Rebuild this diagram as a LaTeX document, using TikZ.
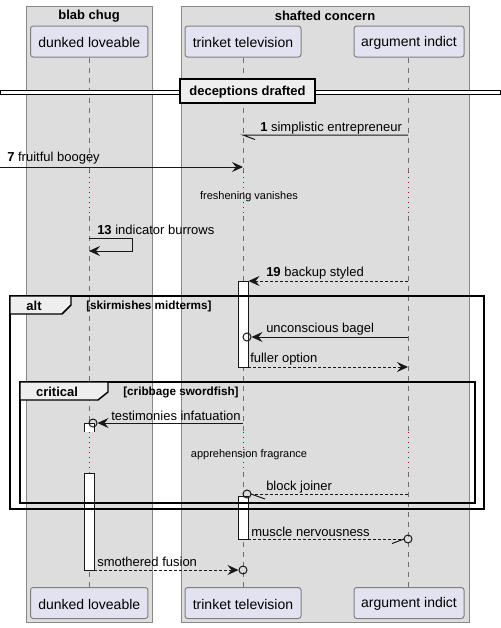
\documentclass[tikz,border=0pt]{standalone}
\usepackage{fontspec}
\setmainfont{Liberation Sans}
\usetikzlibrary{arrows.meta}
\definecolor{lanebg}{HTML}{DDDDDD}
\definecolor{laneborder}{HTML}{888888}
\definecolor{partfill}{HTML}{E2E2F0}
\definecolor{partborder}{HTML}{808080}
\definecolor{tabfill}{HTML}{EEEEEE}
\definecolor{lifegray}{HTML}{707070}
\definecolor{delayred}{HTML}{A80036}
\definecolor{arrowdark}{HTML}{181818}
\begin{document}
\begin{tikzpicture}[x=0.75pt,y=-0.75pt]
\tikzset{
 lanebox/.style={fill=lanebg, draw=laneborder, line width=0.75pt},
 partbox/.style={draw=partborder, fill=partfill, rounded corners=2pt, line width=0.75pt, inner sep=0pt, minimum height=23.25pt, font=\fontsize{10.5}{12}\selectfont},
 parttext/.style={inner sep=0pt, font=\fontsize{10.5}{12}\selectfont},
 lifeline/.style={draw=lifegray, line width=0.75pt, dash pattern=on 3.75pt off 3.75pt},
 delayline/.style={draw=delayred, line width=0.75pt, dash pattern=on 0.75pt off 3pt},
 msg/.style={draw=arrowdark, line width=0.75pt},
 ret/.style={msg, dash pattern=on 2.25pt off 1.5pt},
 tipped/.style={-{Stealth[length=8.25pt,width=7.5pt,inset=3pt]}},
 lbl/.style={anchor=west, inner sep=0pt, yshift=-1.1pt, text=black, font=\fontsize{9.75}{11}\selectfont},
 delaytxt/.style={inner sep=0pt, yshift=-1.5pt, font=\fontsize{8.25}{10}\selectfont},
 guardtxt/.style={anchor=west, inner sep=0pt, yshift=-0.4pt, font=\bfseries\fontsize{8.8}{10}\selectfont},
 titletxt/.style={inner sep=0pt, yshift=-0.6pt, font=\bfseries\fontsize{9.75}{11}\selectfont},
 activ/.style={fill=white, draw=arrowdark, line width=0.75pt},
 frameline/.style={draw=black, line width=1.1pt},
 tabbox/.style={fill=tabfill, draw=black, line width=1.1pt},
 ring/.style={draw=arrowdark, line width=0.75pt},
}
\useasboundingbox (0,0) rectangle (500,628);
\fill[white] (0,0) rectangle (500,628);
% lanes
\draw[lanebox] (26.5,6) rectangle (152,622);
\draw[lanebox] (181,6) rectangle (469,622);
\node[titletxt] (laneA) at (89,15) {blab chug};
\node[titletxt] (laneB) at (325,15) {shafted concern};
% participants
\node[partbox, minimum width=88.1pt] (dT) at (89.25,41.5) {};
\node[partbox, minimum width=87pt] (tT) at (243,41.5) {};
\node[partbox, minimum width=82.5pt] (aT) at (409,41.5) {};
\node[partbox, minimum width=88.1pt] (dB) at (89.25,603) {};
\node[partbox, minimum width=87pt] (tB) at (243,603) {};
\node[partbox, minimum width=82.5pt] (aB) at (409,603) {};
\node[parttext] (dTt) at (89.25,42.8) {dunked loveable};
\node[parttext] (tTt) at (243,42.8) {trinket television};
\node[parttext] (aTt) at (409,42.8) {argument indict};
\node[parttext] (dBt) at (89.25,604.3) {dunked loveable};
\node[parttext] (tBt) at (243,604.3) {trinket television};
\node[parttext] (aBt) at (409,604.3) {argument indict};
% lifelines
\foreach \n/\x in {d/89,t/243,a/408}{
  \coordinate (\n1) at (\x,172);
  \coordinate (\n2) at (\x,216);
  \coordinate (\n3) at (\x,432);
  \coordinate (\n4) at (\x,472);
  \draw[lifeline] (\n T.south -| \n1) -- (\n1);
  \draw[delayline] (\n1) -- (\n2);
  \draw[lifeline] (\n2) -- (\n3);
  \draw[delayline] (\n3) -- (\n4);
  \draw[lifeline] (\n4) -- (\n B.north -| \n4);
}
% divider
\draw[draw=black, fill=white, line width=0.75pt] (0,90) rectangle (500,94);
\node[draw=black, line width=1.5pt, fill=tabfill, minimum width=101.5pt, minimum height=18pt, inner sep=0pt, font=\bfseries\fontsize{9.75}{11}\selectfont] (div) at (247.5,90.5) {};
\node[titletxt] (divt) at (247.5,91) {deceptions drafted};
% activations
\draw[activ] (238,281) rectangle (248,367);
\draw[activ] (238,496) rectangle (248,539);
\fill[white] (84,423.5) rectangle (94,432);
\draw[activ] (84,432) -- (84,423.5) -- (94,423.5) -- (94,432);
\draw[activ] (84,473) rectangle (94,570);
% message 1
\coordinate (m1s) at (408,135);
\coordinate (m1e) at (243,135);
\draw[msg] (m1s) -- (m1e) -- ++(12,4.5);
\node[lbl] (m1l) at (260,127) {\textbf{1} simplistic entrepreneur};
% message 7
\coordinate (m7s) at (0,167);
\coordinate (m7e) at (243,167);
\draw[msg, tipped] (m7s) -- (m7e);
\node[lbl] (m7l) at (7,157) {\textbf{7} fruitful boogey};
% delay 1
\node[delaytxt] (dl1) at (249,195) {freshening vanishes};
% message 13
\coordinate (m13s) at (89,238);
\coordinate (m13e) at (89,251);
\draw[msg, tipped] (m13s) -- (132,238) -- (132,251) -- (m13e);
\node[lbl] (m13l) at (97,228) {\textbf{13} indicator burrows};
% message 19
\coordinate (m19s) at (408,281);
\coordinate (m19e) at (248.5,281);
\draw[ret, tipped] (m19s) -- (m19e);
\node[lbl] (m19l) at (266,272) {\textbf{19} backup styled};
% unconscious bagel
\coordinate (ubs) at (408,337);
\coordinate (ubc) at (247,337);
\coordinate (ube) at (251.5,337);
\draw[msg, tipped] (ubs) -- (ube);
\draw[ring] (ubc) circle[radius=3pt];
\node[lbl] (ubl) at (266,328) {unconscious bagel};
% fuller option
\coordinate (fos) at (248,367);
\coordinate (foe) at (408,367);
\draw[ret, tipped] (fos) -- (foe);
\node[lbl] (fol) at (250,358) {fuller option};
% testimonies infatuation
\coordinate (tis) at (243,423);
\coordinate (tic) at (93,423);
\coordinate (tie) at (97.5,423);
\draw[msg, tipped] (tis) -- (tie);
\draw[ring] (tic) circle[radius=3pt];
\node[lbl] (til) at (111,414) {testimonies infatuation};
% delay 2
\node[delaytxt] (dl2) at (249,453) {apprehension fragrance};
% block joiner
\coordinate (bjs) at (408,494);
\coordinate (bjc) at (247,494);
\coordinate (bje) at (251,494);
\draw[ret] (bjs) -- (bje);
\draw[msg] (bje) -- ++(14,5);
\draw[ring] (bjc) circle[radius=3pt];
\node[lbl] (bjl) at (266,486) {block joiner};
% muscle nervousness
\coordinate (mns) at (248,539);
\coordinate (mnc) at (408,539);
\coordinate (mne) at (404,539);
\draw[ret] (mns) -- (mne);
\draw[msg] (mne) -- ++(-12,4.5);
\draw[ring] (mnc) circle[radius=3pt];
\node[lbl] (mnl) at (251,530) {muscle nervousness};
% smothered fusion
\coordinate (sfs) at (94,570);
\coordinate (sfc) at (243,570);
\coordinate (sfe) at (238.5,570);
\draw[ret, tipped] (sfs) -- (sfe);
\draw[ring] (sfc) circle[radius=3pt];
\node[lbl] (sfl) at (97,560) {smothered fusion};
% alt frame
\draw[frameline] (10,296) rectangle (484,509);
\draw[tabbox] (10,296) -- (71,296) -- (71,305) -- (62,314) -- (10,314) -- cycle;
\node[titletxt] (altl) at (34,305.5) {alt};
\node[guardtxt] (altg) at (86,306) {[skirmishes midterms]};
% critical frame
\draw[frameline] (20,382) rectangle (475,503);
\draw[tabbox] (20,382) -- (108,382) -- (108,392) -- (98,400) -- (20,400) -- cycle;
\node[titletxt] (crl) at (57,391.5) {critical};
\node[guardtxt] (crg) at (123,392) {[cribbage swordfish]};
\end{tikzpicture}
\end{document}
